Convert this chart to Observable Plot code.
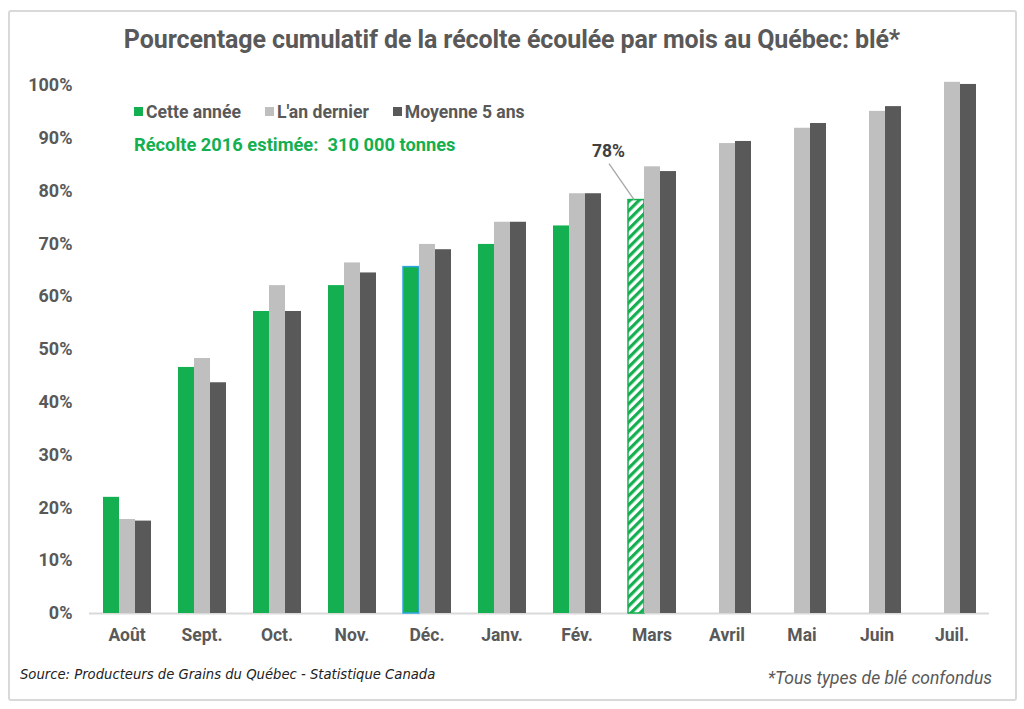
<!DOCTYPE html>
<html>
<head>
<meta charset="utf-8">
<script src="https://cdn.jsdelivr.net/npm/d3@7"></script>
<script src="https://cdn.jsdelivr.net/npm/@observablehq/plot@0.6"></script>
<style>
  html, body { margin: 0; padding: 0; background: #fff; }
  #wrap { position: relative; width: 1024px; height: 709px; overflow: hidden; font-family: Roboto, sans-serif; }
  #border { position: absolute; left: 8px; top: 10px; width: 1005px; height: 687px; border: 2px solid #d9d9d9; border-radius: 3px; }
  #title { position: absolute; left: 0; width: 1024px; top: 26px; text-align: center; font-size: 25px; font-weight: bold; color: #595959; line-height: 28px; white-space: nowrap; letter-spacing: -0.1px; }
  #chart { position: absolute; left: 0; top: 62px; }
  #legend { position: absolute; left: 134px; top: 99px; font-size: 17.6px; font-weight: bold; color: #595959; line-height: 22px; white-space: nowrap; }
  #legend span.item { display: inline-flex; align-items: center; margin-right: 24px; }
  #legend span.sw { display: inline-block; width: 9px; height: 9px; margin-right: 3px; }
  #note { position: absolute; left: 134px; top: 134px; font-size: 18.3px; font-weight: bold; color: #14AF50; line-height: 22px; white-space: nowrap; }
  #source { position: absolute; left: 20px; top: 667px; font-family: "DejaVu Sans", sans-serif; font-style: italic; font-size: 13.2px; color: #222; white-space: nowrap; }
  #foot { position: absolute; right: 32px; top: 668px; font-style: italic; font-size: 17.5px; color: #595959; white-space: nowrap; }
  #chart [aria-label^="y-axis"] text { font-size: 18px; }
  #chart [aria-label^="fx-axis"] text { font-size: 17.5px; }
</style>
</head>
<body>
<div id="wrap">
  <div id="border"></div>
  <div id="title"></div>
  <div id="chart"></div>
  <div id="legend"></div>
  <div id="note"></div>
  <div id="source"></div>
  <div id="foot"></div>
</div>
<script>
// ---- Data ----
const months = ["Août", "Sept.", "Oct.", "Nov.", "Déc.", "Janv.", "Fév.", "Mars", "Avril", "Mai", "Juin", "Juil."];
const seriesNames = ["Cette année", "L'an dernier", "Moyenne 5 ans"];
const cetteAnnee = [22.0, 46.6, 57.2, 62.1, 65.6, 69.9, 73.4, 78.3, null, null, null, null];
const anDernier = [17.8, 48.3, 62.1, 66.4, 69.9, 74.1, 79.5, 84.6, 89.0, 91.9, 95.1, 100.6];
const moyenne5 = [17.5, 43.7, 57.2, 64.5, 68.9, 74.1, 79.5, 83.7, 89.4, 92.8, 96.0, 100.2];
const estimatedMonths = ["Mars"];
const highlightedMonths = ["Déc."];
const yTicks = [0, 10, 20, 30, 40, 50, 60, 70, 80, 90, 100];

const titleText = "Pourcentage cumulatif de la récolte écoulée par mois au Québec: blé*";
const noteText = "Récolte 2016 estimée:\u00a0 310 000 tonnes";
const sourceText = "Source: Producteurs de Grains du Québec - Statistique Canada";
const footText = "*Tous types de blé confondus";

const colors = {"Cette année": "#14AF50", "L'an dernier": "#BFBFBF", "Moyenne 5 ans": "#595959"};

// ---- Build table ----
const valuesBySeries = [cetteAnnee, anDernier, moyenne5];
const data = [];
months.forEach((m, i) => {
  seriesNames.forEach((s, j) => {
    const v = valuesBySeries[j][i];
    if (v != null) data.push({month: m, series: s, value: v});
  });
});
const isEstimated = d => d.series === seriesNames[0] && estimatedMonths.includes(d.month);
const isHighlighted = d => d.series === seriesNames[0] && highlightedMonths.includes(d.month);

// ---- Texts ----
document.getElementById("title").textContent = titleText;
document.getElementById("note").textContent = noteText;
document.getElementById("source").textContent = sourceText;
document.getElementById("foot").textContent = footText;
const legend = document.getElementById("legend");
seriesNames.forEach(s => {
  const item = document.createElement("span");
  item.className = "item";
  const sw = document.createElement("span");
  sw.className = "sw";
  sw.style.background = colors[s];
  item.appendChild(sw);
  item.appendChild(document.createTextNode(s));
  legend.appendChild(item);
});

// ---- Plot ----
const plot = Plot.plot({
  width: 1024,
  height: 600,
  marginTop: 23,
  marginBottom: 49,
  marginLeft: 87,
  marginRight: 33,
  style: {fontFamily: "Roboto, sans-serif", fontSize: "17px", fontWeight: "bold", color: "#595959", background: "transparent", overflow: "visible"},
  fx: {domain: months, padding: 0, label: null, axis: "bottom", tickSize: 0, tickPadding: 15},
  x: {domain: seriesNames, paddingInner: 0, paddingOuter: 0.755, axis: null},
  y: {domain: [0, 100], ticks: yTicks, tickFormat: d => d + "%", tickSize: 0, tickPadding: 17, label: null},
  marks: [
    Plot.ruleY([0], {stroke: "#d9d9d9", strokeWidth: 2}),
    Plot.barY(data, {
      fx: "month", x: "series", y: "value",
      fill: d => isEstimated(d) ? "url(#hatch)" : colors[d.series],
      stroke: d => isEstimated(d) ? colors[d.series] : isHighlighted(d) ? "#2BA6DE" : "none",
      strokeWidth: 1.5,
      inset: 0
    }),
    Plot.text(data.filter(isEstimated), {
      fx: "month", x: "series", y: "value",
      text: d => Math.round(d.value) + "%",
      dx: -28, dy: -49, fontSize: 17.5, fontWeight: "bold", fill: "#404040"
    })
  ]
});
document.getElementById("chart").appendChild(plot);

// hatch pattern definition
const svgNS = "http://www.w3.org/2000/svg";
const defs = document.createElementNS(svgNS, "defs");
defs.innerHTML = `<pattern id="hatch" patternUnits="userSpaceOnUse" width="6.5" height="6.5" patternTransform="rotate(45)">
  <rect width="6.5" height="6.5" fill="#fff"></rect>
  <line x1="1.6" y1="0" x2="1.6" y2="6.5" stroke="${colors["Cette année"]}" stroke-width="3.2"></line>
</pattern>`;
plot.insertBefore(defs, plot.firstChild);

// leader line from the estimated bar's top (bar geometry as drawn by Plot)
const svgBox = plot.getBoundingClientRect();
plot.querySelectorAll("rect").forEach(r => {
  if (r.getAttribute("fill") !== "url(#hatch)") return;
  const b = r.getBoundingClientRect();
  const cx = b.left - svgBox.left + b.width / 2;
  const cy = b.top - svgBox.top;
  const line = document.createElementNS(svgNS, "line");
  line.setAttribute("x1", cx - 2);
  line.setAttribute("y1", cy);
  line.setAttribute("x2", cx - 27);
  line.setAttribute("y2", cy - 36);
  line.setAttribute("stroke", "#A6A6A6");
  line.setAttribute("stroke-width", 1.3);
  plot.appendChild(line);
});
</script>
</body>
</html>
